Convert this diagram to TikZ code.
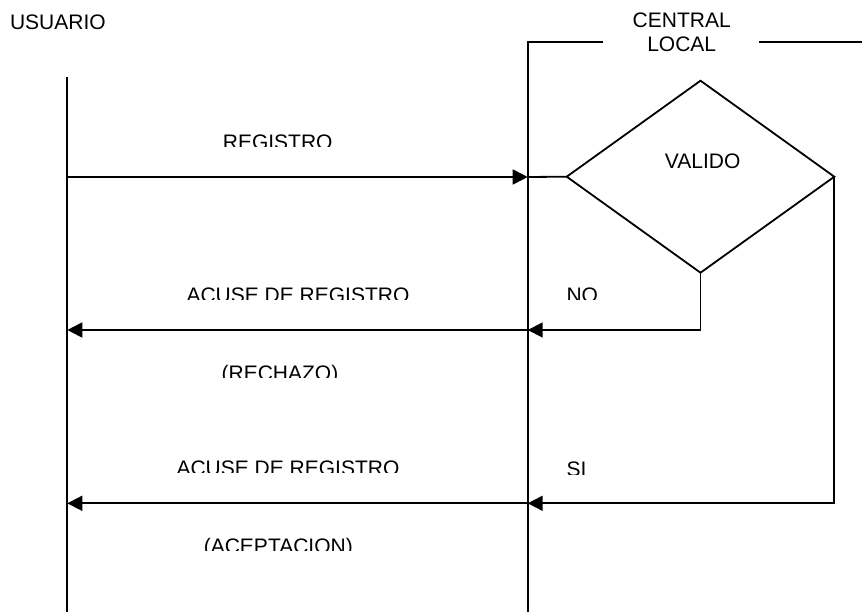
\documentclass[tikz,border=0pt]{standalone}
\usepackage{fontspec}
\setmainfont{Liberation Sans}
\usetikzlibrary{arrows.meta,shapes.geometric}
\begin{document}
\begin{tikzpicture}[x=1pt,y=-1pt,
  every node/.style={inner sep=0pt,outer sep=0pt,font=\fontsize{21}{24}\selectfont},
  lineA/.style={line width=1.8pt,black},
  msg/.style={lineA,-{Triangle[length=15pt,width=15pt]}},
  lbl/.style={anchor=base}]
\useasboundingbox[fill=white] (0,0) rectangle (862,612);
% headers
\node[anchor=base west] (usuario) at (10,29.5) {USUARIO};
\node[anchor=base] (central) at (681.7,28) {CENTRAL};
\node[anchor=base] (local) at (681.7,52) {LOCAL};
% lifelines
\coordinate (uTop) at (67.3,76.7);
\coordinate (uBot) at (67.3,612);
\coordinate (cTopL) at (603,42.3);
\coordinate (cTop) at (527.7,42.3);
\coordinate (cBot) at (527.7,612);
\coordinate (rTopL) at (759,42.3);
\coordinate (rTopR) at (862,42.3);
\draw[lineA] (uTop) -- (uBot);
\draw[lineA] (cTopL) -- (cTop) -- (cBot);
\draw[lineA] (rTopL) -- (rTopR);
% decision
\node[draw,lineA,diamond,minimum width=267.6pt,minimum height=192pt] (dec) at (700.5,176.7) {};
\node[lbl] (valido) at (702.7,168.3) {VALIDO};
% message points
\coordinate (u1) at (67.3,177);
\coordinate (c1) at (527.7,177);
\coordinate (c2) at (527.7,330);
\coordinate (u2) at (67.3,330);
\coordinate (c3) at (527.7,503.3);
\coordinate (u3) at (67.3,503.3);
\draw[msg] (u1) -- (c1);
\draw[lineA] (c1) -- (dec.west);
\draw[msg] (dec.south) |- (c2);
\draw[msg] (c2) -- (u2);
\draw[msg] (dec.east) |- (c3);
\draw[msg] (c3) -- (u3);
% clipped labels
\begin{scope}
\clip (150,120) rectangle (420,146.7);
\node[lbl] (registro) at (277.7,150) {REGISTRO};
\end{scope}
\begin{scope}
\clip (150,270) rectangle (450,299.5);
\node[lbl] (acuse1) at (298,302.3) {ACUSE DE REGISTRO};
\end{scope}
\begin{scope}
\clip (150,350) rectangle (450,377);
\node[lbl] (rechazo) at (280,380) {(RECHAZO)};
\end{scope}
\begin{scope}
\clip (550,270) rectangle (650,300);
\node[anchor=base west] (no) at (566.5,303) {NO};
\end{scope}
\begin{scope}
\clip (150,440) rectangle (450,472.7);
\node[lbl] (acuse2) at (288,475.7) {ACUSE DE REGISTRO};
\end{scope}
\begin{scope}
\clip (550,440) rectangle (650,474);
\node[anchor=base west] (si) at (566.5,476.7) {SI};
\end{scope}
\begin{scope}
\clip (150,520) rectangle (450,550);
\node[lbl] (aceptacion) at (278.3,553.3) {(ACEPTACION)};
\end{scope}
\end{tikzpicture}
\end{document}
